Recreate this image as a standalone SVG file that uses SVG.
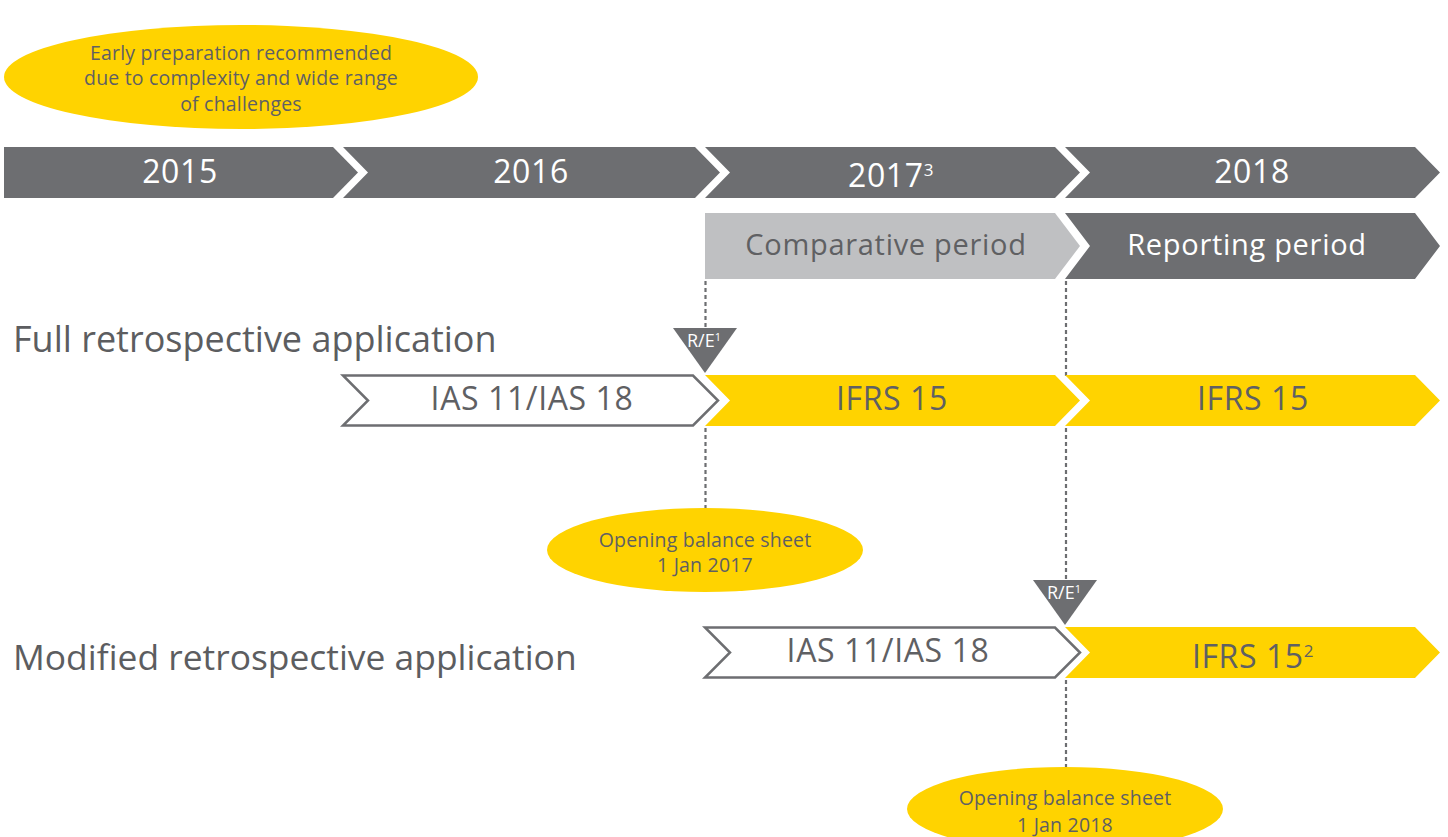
<svg xmlns="http://www.w3.org/2000/svg" width="1448" height="837" viewBox="0 0 1448 837">
<style>
text{font-family:"Open Sans","Liberation Sans",sans-serif}
.dark{fill:#6d6e71}
.light{fill:#bfc0c2}
.yel{fill:#ffd300}
.out{fill:#ffffff;stroke:#6d6e71;stroke-width:2.5}
.wt{fill:#ffffff;text-anchor:middle}
.gt{fill:#5f6063;text-anchor:middle}
.big{font-size:32px;letter-spacing:0.6px}
.per{font-size:29px;letter-spacing:0.7px}
.ell{font-size:19.5px;letter-spacing:0.2px}
.re{font-size:18px}
.lbl{fill:#5c5d60;font-size:36px}
.dot{stroke:#6d6e71;stroke-width:2.2;stroke-dasharray:4 3;fill:none}
</style>
<rect width="1448" height="837" fill="#ffffff"/>
<g id="connectors">
<line class="dot" x1="705.5" y1="281" x2="705.5" y2="330"/>
<line class="dot" x1="705.5" y1="428" x2="705.5" y2="510"/>
<line class="dot" x1="1066" y1="281" x2="1066" y2="376"/>
<line class="dot" x1="1066" y1="428" x2="1066" y2="582"/>
<line class="dot" x1="1066" y1="680" x2="1066" y2="770"/>
</g>
<g id="note-early">
<ellipse class="yel" cx="241" cy="77" rx="237" ry="52"/>
<text class="gt ell" x="241" y="60">Early preparation recommended</text>
<text class="gt ell" x="241" y="85">due to complexity and wide range</text>
<text class="gt ell" x="241" y="111">of challenges</text>
</g>
<g id="year-2015">
<polygon class="dark" points="4,147 333,147 358,172.5 333,198 4,198"/>
<text class="wt big" x="180" y="183">2015</text>
</g>
<g id="year-2016">
<polygon class="dark" points="343,147 695,147 720,172.5 695,198 343,198 368,172.5"/>
<text class="wt big" x="531" y="183">2016</text>
</g>
<g id="year-2017">
<polygon class="dark" points="705,147 1055,147 1080,172.5 1055,198 705,198 730,172.5"/>
<text class="wt big" x="891" y="187">2017<tspan font-size="17" dy="-11">3</tspan></text>
</g>
<g id="year-2018">
<polygon class="dark" points="1065,147 1415,147 1440,172.5 1415,198 1065,198 1090,172.5"/>
<text class="wt big" x="1252" y="183">2018</text>
</g>
<g id="comparative-period">
<polygon class="light" points="705,213 1055,213 1080,246 1055,279 705,279"/>
<text class="gt per" x="886" y="255">Comparative period</text>
</g>
<g id="reporting-period">
<polygon class="dark" points="1065,213 1415,213 1440,246 1415,279 1065,279 1090,246"/>
<text class="wt per" x="1247" y="255">Reporting period</text>
</g>
<g id="label-full">
<text class="lbl" x="13" y="352">Full retrospective application</text>
</g>
<g id="full-ias">
<polygon class="out" points="343,375.5 693,375.5 718,400.5 693,425.5 343,425.5 368,400.5"/>
<text class="gt big" x="532" y="410">IAS 11/IAS 18</text>
</g>
<g id="full-ifrs-2017">
<polygon class="yel" points="705,375 1055,375 1080,400.5 1055,426 705,426 730,400.5"/>
<text class="gt big" x="892" y="410">IFRS 15</text>
</g>
<g id="full-ifrs-2018">
<polygon class="yel" points="1065,375 1415,375 1440,400.5 1415,426 1065,426 1090,400.5"/>
<text class="gt big" x="1253" y="410">IFRS 15</text>
</g>
<g id="re-full">
<polygon class="dark" points="673,328 737,328 705,373"/>
<text class="wt re" x="704" y="347">R/E<tspan font-size="11" dy="-6">1</tspan></text>
</g>
<g id="opening-2017">
<ellipse class="yel" cx="705" cy="550" rx="158" ry="42"/>
<text class="gt ell" x="705" y="547">Opening balance sheet</text>
<text class="gt ell" x="705" y="572">1 Jan 2017</text>
</g>
<g id="label-modified">
<text class="lbl" x="13" y="670" style="font-size:35.4px">Modified retrospective application</text>
</g>
<g id="mod-ias">
<polygon class="out" points="705,627.5 1055,627.5 1080,652.5 1055,677.5 705,677.5 730,652.5"/>
<text class="gt big" x="888" y="662">IAS 11/IAS 18</text>
</g>
<g id="mod-ifrs">
<polygon class="yel" points="1065,627 1415,627 1440,652.5 1415,678 1065,678 1090,652.5"/>
<text class="gt big" x="1253" y="668">IFRS 15<tspan font-size="17" dy="-11">2</tspan></text>
</g>
<g id="re-mod">
<polygon class="dark" points="1033,580 1097,580 1065,625"/>
<text class="wt re" x="1064" y="599">R/E<tspan font-size="11" dy="-6">1</tspan></text>
</g>
<g id="opening-2018">
<ellipse class="yel" cx="1065" cy="809" rx="158" ry="42"/>
<text class="gt ell" x="1065" y="805">Opening balance sheet</text>
<text class="gt ell" x="1065" y="832">1 Jan 2018</text>
</g>
</svg>
